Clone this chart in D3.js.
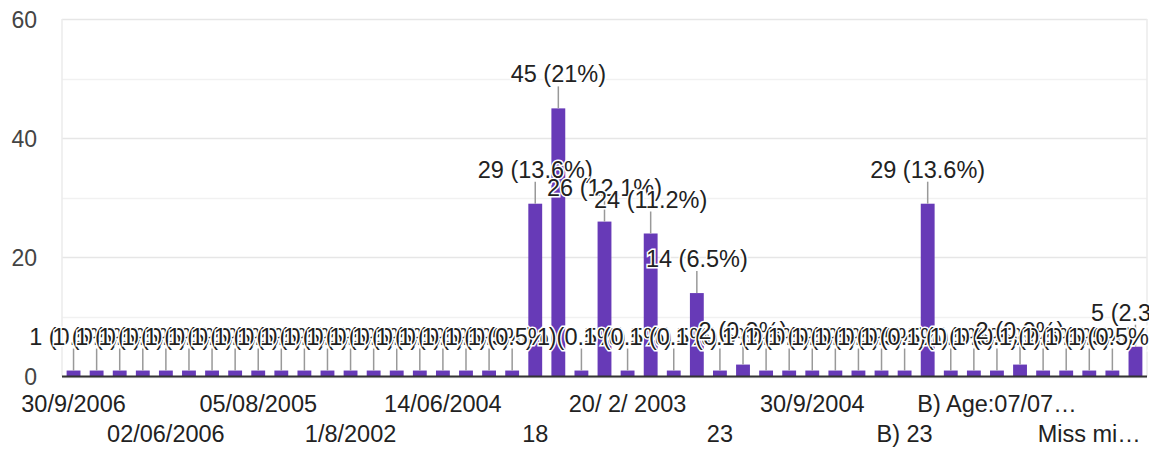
<!DOCTYPE html>
<html>
<head>
<meta charset="utf-8">
<script src="https://cdn.jsdelivr.net/npm/d3@7"></script>
<style>
  body { margin: 0; background: #fff; }
  svg { display: block; font-family: Arial, "Liberation Sans", sans-serif; }
</style>
</head>
<body>
<svg width="1155" height="450"></svg>
<script>
// responses (x categories), in the order the form shows them
const categories = [
    "30/9/2006", "12/3/2006", "4/11/2005", "21/7/2006",
    "02/06/2006", "15/01/2005", "9/9/2005", "27/04/2006",
    "05/08/2005", "11/11/2004", "3/2/2006", "18/12/2005",
    "1/8/2002", "6/6/2005", "22/10/2004", "13/05/2006",
    "14/06/2004", "08/08/2005", "25/3/2005", "19",
    "18", "18 years", "20", "19 years",
    "20/ 2/ 2003", "20 years", "21", "21 years",
    "23", "22", "22 years", "17",
    "30/9/2004", "24", "25", "10/10/2003",
    "B) 23", "B) 18", "B) 19", "B) 20",
    "B) Age:07/07…", "B) 21", "B) 22", "Miss 18",
    "Miss mi…", "Mr 19", "Other"
];
const counts = [
    1, 1, 1, 1, 1, 1, 1, 1, 1, 1, 1, 1, 1, 1, 1, 1,
    1, 1, 1, 1, 29, 45, 1, 26, 1, 24, 1, 14, 1, 2, 1, 1,
    1, 1, 1, 1, 1, 29, 1, 1, 1, 2, 1, 1, 1, 1, 5
];
const majorTicks = [0, 20, 40, 60];
const minorTicks = [10, 30, 50];

const svg = d3.select("svg"),
    width = +svg.attr("width"),
    height = +svg.attr("height");

const margin = {top: 19, right: 8, bottom: 73, left: 62};
const total = d3.sum(counts);

const x = d3.scaleBand()
    .domain(d3.range(categories.length))
    .range([margin.left, width - margin.right])
    .paddingInner(0.4)
    .paddingOuter(0.2);

const y = d3.scaleLinear()
    .domain([0, 60])
    .range([height - margin.bottom - 0.5, margin.top]);

// gridlines
svg.append("g")
    .selectAll("line")
    .data(majorTicks.concat(minorTicks))
    .enter().append("line")
    .attr("x1", margin.left)
    .attr("x2", width - margin.right)
    .attr("y1", d => Math.round(y(d)) + 0.5)
    .attr("y2", d => Math.round(y(d)) + 0.5)
    .attr("stroke", d => d % 20 === 0 ? "#e6e6e6" : "#f1f1f1")
    .attr("stroke-width", 1.5);

// chart area side borders
svg.append("g")
    .selectAll("line")
    .data([margin.left, width - margin.right])
    .enter().append("line")
    .attr("x1", d => d).attr("x2", d => d)
    .attr("y1", y(60)).attr("y2", y(0))
    .attr("stroke", "#ebebeb")
    .attr("stroke-width", 1.5);

// y axis
const yAxis = svg.append("g")
    .attr("transform", `translate(${margin.left - 25},0)`)
    .call(d3.axisLeft(y).tickValues(majorTicks).tickSize(0).tickPadding(0));
yAxis.select(".domain").remove();
yAxis.selectAll("text")
    .attr("fill", "#444")
    .attr("font-size", 23)
    .attr("dy", "0.35em");

// bars
svg.append("g")
    .selectAll("rect")
    .data(counts)
    .enter().append("rect")
    .attr("x", (d, i) => x(i))
    .attr("width", x.bandwidth())
    .attr("y", d => y(d))
    .attr("height", d => y(0) - y(d))
    .attr("fill", "#673ab7");

// baseline
svg.append("line")
    .attr("x1", margin.left)
    .attr("x2", width - margin.right)
    .attr("y1", y(0))
    .attr("y2", y(0))
    .attr("stroke", "#333")
    .attr("stroke-width", 2);

// x labels, every fourth category, alternating in two rows
const shown = categories.map((c, i) => ({c, i})).filter(d => d.i % 4 === 0);
svg.append("g")
    .selectAll("text")
    .data(shown)
    .enter().append("text")
    .attr("x", d => x(d.i) + x.bandwidth() / 2)
    .attr("y", d => (d.i / 4) % 2 === 0 ? 412 : 442)
    .attr("text-anchor", "middle")
    .attr("font-size", 23.5)
    .attr("fill", "#222")
    .text(d => d.c);

// value labels, clipped on the right by the chart area
svg.append("defs").append("clipPath")
    .attr("id", "labelclip")
    .append("rect")
    .attr("x", 0).attr("y", 0)
    .attr("width", width - margin.right + 2)
    .attr("height", height);

const labels = svg.append("g").attr("clip-path", "url(#labelclip)");
const pct = v => Math.round(v / total * 1000) / 10;

labels.selectAll("line")
    .data(counts)
    .enter().append("line")
    .attr("x1", (d, i) => x(i) + x.bandwidth() / 2)
    .attr("x2", (d, i) => x(i) + x.bandwidth() / 2)
    .attr("y1", d => y(d) - 22)
    .attr("y2", d => y(d))
    .attr("stroke", "#999")
    .attr("stroke-width", 1.5);

labels.selectAll("text")
    .data(counts)
    .enter().append("text")
    .attr("x", (d, i) => x(i) + x.bandwidth() / 2)
    .attr("y", d => y(d) - 26)
    .attr("text-anchor", "middle")
    .attr("font-size", 23.5)
    .attr("fill", "#222")
    .attr("stroke", "#fff")
    .attr("stroke-width", 3)
    .attr("paint-order", "stroke")
    .text(d => `${d} (${pct(d)}%)`);
</script>
</body>
</html>
